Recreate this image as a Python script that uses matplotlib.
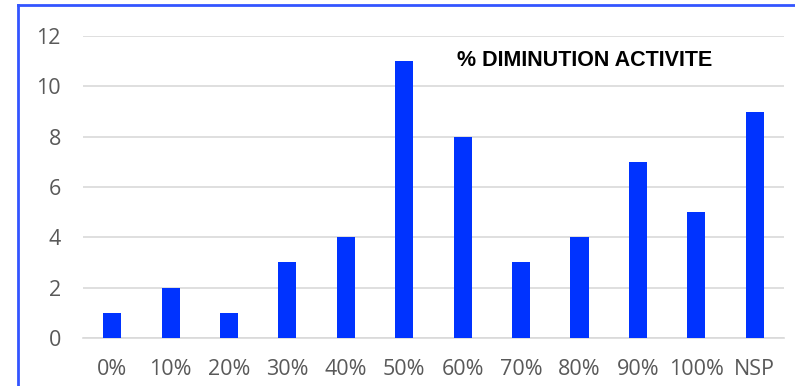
import matplotlib.pyplot as plt
from matplotlib.lines import Line2D

categories = ['0%', '10%', '20%', '30%', '40%', '50%', '60%', '70%', '80%', '90%', '100%', 'NSP']
counts = [1, 2, 1, 3, 4, 11, 8, 3, 4, 7, 5, 9]
title = '% DIMINUTION ACTIVITE'

fig = plt.figure(figsize=(7.95, 3.86), dpi=100)
ax = fig.add_axes([0.1044, 0.1244, 0.8817, 0.7823])

x = range(len(categories))
ax.bar(x, counts, width=0.31, color='#0033FF', zorder=3)

ax.set_xlim(-0.5, len(categories) - 0.5)
ax.set_ylim(0, 12)
ax.set_yticks(range(0, 13, 2))
ax.set_xticks(list(x))
ax.set_xticklabels(categories)

# gridlines like the spreadsheet default
ax.grid(axis='y', color='#D9D9D9', linewidth=1.2, zorder=0)
for s in ['top', 'right', 'left']:
    ax.spines[s].set_visible(False)
ax.spines['bottom'].set_color('#D9D9D9')
ax.spines['bottom'].set_linewidth(1.2)
ax.tick_params(axis='both', length=0, labelsize=15.5, labelcolor='#595959')
ax.tick_params(axis='y', pad=16)
ax.tick_params(axis='x', pad=15)
for lab in ax.get_xticklabels() + ax.get_yticklabels():
    lab.set_fontfamily('Open Sans')

ax.text(0.715, 0.92, title, transform=ax.transAxes, ha='center', va='center',
        fontsize=15.5, fontweight='bold', family=['Liberation Sans', 'DejaVu Sans'])

# blue frame on left and top (cropped chart border)
fig.add_artist(Line2D([18 / 795, 18 / 795], [0, 1 - 5 / 386], transform=fig.transFigure,
                      color='#3355FF', linewidth=2))
fig.add_artist(Line2D([18 / 795, 1], [1 - 5 / 386, 1 - 5 / 386], transform=fig.transFigure,
                      color='#3355FF', linewidth=2))

plt.savefig('out.png', dpi=100)
